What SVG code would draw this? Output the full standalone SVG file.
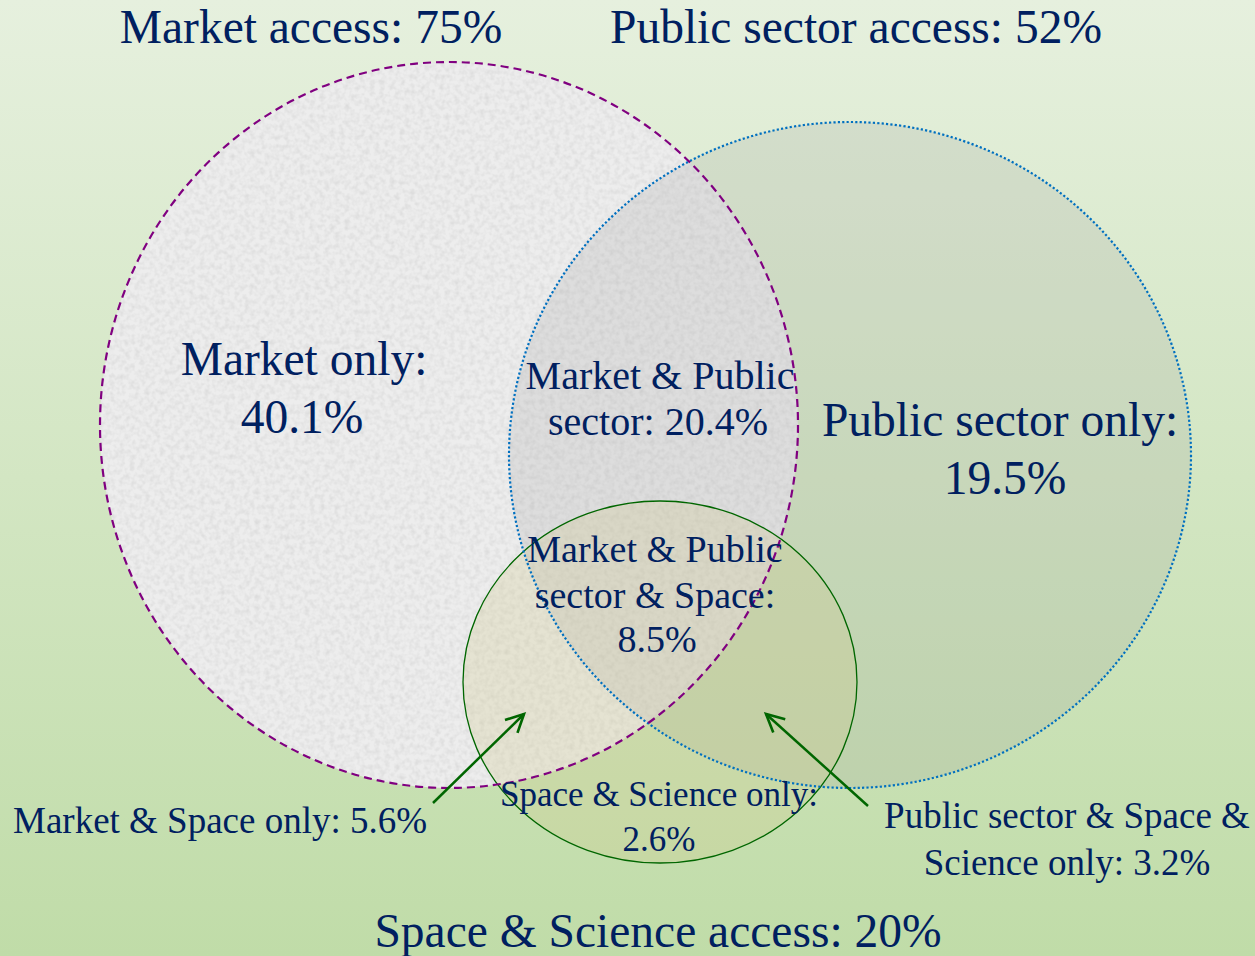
<svg xmlns="http://www.w3.org/2000/svg" width="1255" height="956" viewBox="0 0 1255 956">
<defs>
<linearGradient id="bg" x1="0" y1="0" x2="0" y2="1">
<stop offset="0" stop-color="#e6f0de"/>
<stop offset="1" stop-color="#c0dca8"/>
</linearGradient>
<filter id="noise" x="0" y="0" width="100%" height="100%">
<feTurbulence type="fractalNoise" baseFrequency="0.2" numOctaves="2" seed="3" result="t"/>
<feColorMatrix in="t" type="matrix" values="0 0 0 0 0.5  0 0 0 0 0.5  0 0 0 0 0.5  0 0 0 -1.6 1.0" result="g"/>
<feComposite in="g" in2="SourceGraphic" operator="in"/>
</filter>
<marker id="arr" viewBox="0 0 20 20" refX="18" refY="10" markerWidth="21" markerHeight="21" markerUnits="userSpaceOnUse" orient="auto" overflow="visible">
<path d="M1,1.5 L18,10 L1,18.5" fill="none" stroke="#006600" stroke-width="2.5"/>
</marker>
<style>
.t{font-family:"Liberation Serif","Times New Roman",serif;fill:#002060;text-anchor:middle}
.big{font-size:47.5px}
.mid{font-size:38px}
.sm{font-size:35px}
.lab{font-size:37px}
</style>
</defs>
<rect width="1255" height="956" fill="url(#bg)"/>
<g id="market">
<ellipse cx="449" cy="425" rx="349" ry="363" fill="#ededed"/>
<ellipse cx="449" cy="425" rx="349" ry="363" fill="#ffffff" filter="url(#noise)" opacity="0.4"/>
</g>
<g id="public">
<ellipse cx="850" cy="455" rx="341" ry="333" fill="#969696" fill-opacity="0.18"/>
</g>
<g id="space">
<ellipse cx="660" cy="682" rx="197" ry="181" fill="#d2c88c" fill-opacity="0.28" stroke="#006600" stroke-width="1.3"/>
</g>
<g id="outlines">
<ellipse cx="850" cy="455" rx="341" ry="333" fill="none" stroke="#0070c0" stroke-width="2.2" stroke-dasharray="2.2 2.2"/>
<ellipse cx="449" cy="425" rx="349" ry="363" fill="none" stroke="#800080" stroke-width="2.2" stroke-dasharray="8 5"/>
</g>
<g id="connectors">
<line x1="433" y1="803" x2="524" y2="714" stroke="#006600" stroke-width="2.5" marker-end="url(#arr)"/>
<line x1="868" y1="806" x2="766" y2="714" stroke="#006600" stroke-width="2.5" marker-end="url(#arr)"/>
</g>
<g id="labels">
<text class="t big" x="311" y="43">Market access: 75%</text>
<text class="t big" x="856" y="43">Public sector access: 52%</text>
<text class="t big" x="304" y="375">Market only:</text>
<text class="t big" x="302" y="433">40.1%</text>
<text class="t" style="font-size:40px" x="660" y="389">Market &amp; Public</text>
<text class="t" style="font-size:40px" x="658" y="435">sector: 20.4%</text>
<text class="t big" x="1000" y="436">Public sector only:</text>
<text class="t big" x="1005" y="494">19.5%</text>
<text class="t mid" x="655" y="562">Market &amp; Public</text>
<text class="t mid" x="655" y="608">sector &amp; Space:</text>
<text class="t mid" x="657" y="652">8.5%</text>
<text class="t sm" x="659" y="806">Space &amp; Science only:</text>
<text class="t sm" x="659" y="851">2.6%</text>
<text class="t lab" x="13" y="833" style="text-anchor:start">Market &amp; Space only: 5.6%</text>
<text class="t lab" x="1067" y="828">Public sector &amp; Space &amp;</text>
<text class="t lab" x="1067" y="875">Science only: 3.2%</text>
<text class="t big" x="658" y="947">Space &amp; Science access: 20%</text>
</g>
</svg>
